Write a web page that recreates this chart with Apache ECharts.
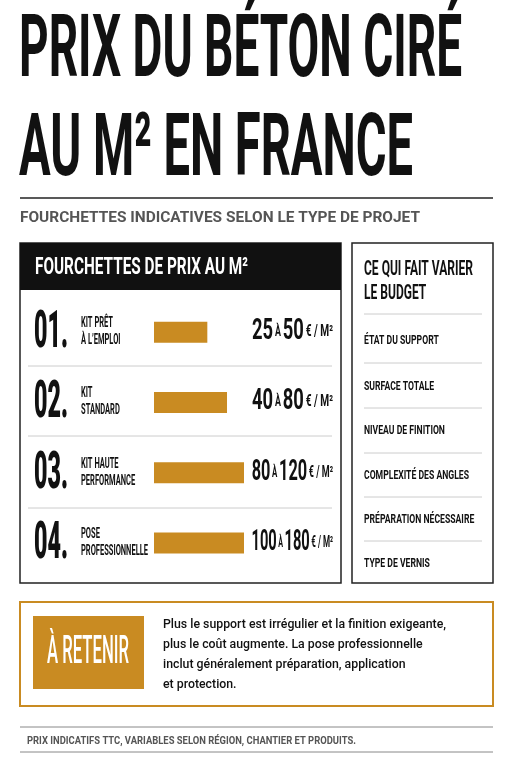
<!DOCTYPE html><html><head><meta charset="utf-8">
<script src="https://cdn.jsdelivr.net/npm/echarts@6/dist/echarts.min.js"></script>
<style>html,body{margin:0;background:#fff}#c{width:511px;height:768px}</style></head><body><div id="c"></div>
<script>
const numbers=['01.','02.','03.','04.'];
const categories=['KIT PRÊT\nÀ L\u2019EMPLOI','KIT\nSTANDARD','KIT HAUTE\nPERFORMANCE','POSE\nPROFESSIONNELLE'];
const priceMin=[25,40,80,100];
const priceMax=[50,80,120,180];
const factors=['ÉTAT DU SUPPORT','SURFACE TOTALE','NIVEAU DE FINITION','COMPLEXITÉ DES ANGLES','PRÉPARATION NÉCESSAIRE','TYPE DE VERNIS'];
const GOLD='#C98B22';
const F="Roboto, sans-serif";
const cv=document.createElement('canvas').getContext('2d');
function mw(text,size,weight){cv.font=(weight||'bold')+' '+size+'px Roboto';return Math.max(...text.split('\n').map(s=>cv.measureText(s).width));}
const chart=echarts.init(document.getElementById('c'));
const rowY=[332,402,473,543];
const g=[];
function T(x,y,text,size,width,o){
 const w=mw(text,size,o&&o.fontWeight);
 const sx=typeof width==='number'?width/w:(width&&width.sx)||0.62;
 g.push({type:'group',x,y,scaleX:sx,children:[{type:'text',x:0,y:0,style:Object.assign({text,fontFamily:F,fontSize:size,fontWeight:'bold',fill:'#111',textVerticalAlign:'middle'},o||{})}]});
}
const R=(x,y,w,h,s)=>g.push({type:'rect',shape:{x,y,width:w,height:h},style:s});
const L=(x1,y1,x2,y2,c,w)=>g.push({type:'line',shape:{x1,y1,x2,y2},style:{stroke:c,lineWidth:w||1}});
T(19,54,'PRIX DU BÉTON CIRÉ',88,443);
T(19,153,'AU M² EN FRANCE',88,394);
L(20,198,493,198,'#222',1.5);
T(20,218,'FOURCHETTES INDICATIVES SELON LE TYPE DE PROJET',15.5,400,{fill:'#555'});
R(20,243,321,340,{fill:'none',stroke:'#222',lineWidth:1.5});
R(20,243,321,47,{fill:'#111'});
T(35,268,'FOURCHETTES DE PRIX AU M²',24,213,{fill:'#fff'});
[366,436,508].forEach(y=>L(28,y,332,y,'#ccc',1));
const sxLab=67/mw('PROFESSIONNELLE',14.5);
numbers.forEach((n,i)=>{
 T(34,rowY[i]+2,n,52,34,{fontWeight:900});
 T(81,rowY[i],categories[i],14.5,{sx:sxLab},{lineHeight:17});
 const w=mw(String(priceMin[i]),29)+mw(String(priceMax[i]),29)+mw('À',14)+mw('€ / M²',16)+3*mw(' ',16);
 g.push({type:'group',x:333,y:rowY[i],scaleX:83/w,children:[{type:'text',x:0,y:0,style:{text:'{a|'+priceMin[i]+'} {b|À} {a|'+priceMax[i]+'} {c|€ / M²}',textAlign:'right',textVerticalAlign:'middle',fontFamily:F,fontWeight:'bold',fill:'#111',
 rich:{a:{fontSize:29,fontFamily:F,fontWeight:'bold',fill:'#111'},b:{fontSize:14,fontFamily:F,fontWeight:'bold',fill:'#111'},c:{fontSize:16,fontFamily:F,fontWeight:'bold',fill:'#111'}}}}]});
});
R(352,243,141,340,{fill:'none',stroke:'#222',lineWidth:1.5});
T(364,282,'CE QUI FAIT VARIER\nLE BUDGET',20,109,{lineHeight:24});
[314,363,408,453,497,541].forEach(y=>L(364,y,482,y,'#ccc',1));
const sxF=105/mw('COMPLEXITÉ DES ANGLES',13);
factors.forEach((f,i)=>T(364,[341,387,431,476,520,564][i],f,13,{sx:sxF}));
R(20,602,473,104,{fill:'none',stroke:GOLD,lineWidth:2});
R(33,616,111,73,{fill:GOLD});
T(47,653,'À RETENIR',38,82,{fill:'#fff',fontWeight:500});
T(163,655,'Plus le support est irrégulier et la finition exigeante,\nplus le coût augmente. La pose professionnelle\ninclut généralement préparation, application\net protection.',13.5,283,{lineHeight:20,fontWeight:500});
L(20,727,493,727,'#888',1);L(20,752,493,752,'#888',1);
T(27,741,'PRIX INDICATIFS TTC, VARIABLES SELON RÉGION, CHANTIER ET PRODUITS.',11,329,{fill:'#555'});
chart.setOption({
 animation:false,
 grid:{left:154,width:90,top:297,height:281},
 xAxis:{type:'log',min:14,max:120,show:false},
 yAxis:{type:'category',data:categories,inverse:true,show:false},
 series:[{type:'bar',data:priceMax,barWidth:21,clip:true,itemStyle:{color:GOLD},silent:true}],
 graphic:g
});
</script></body></html>
